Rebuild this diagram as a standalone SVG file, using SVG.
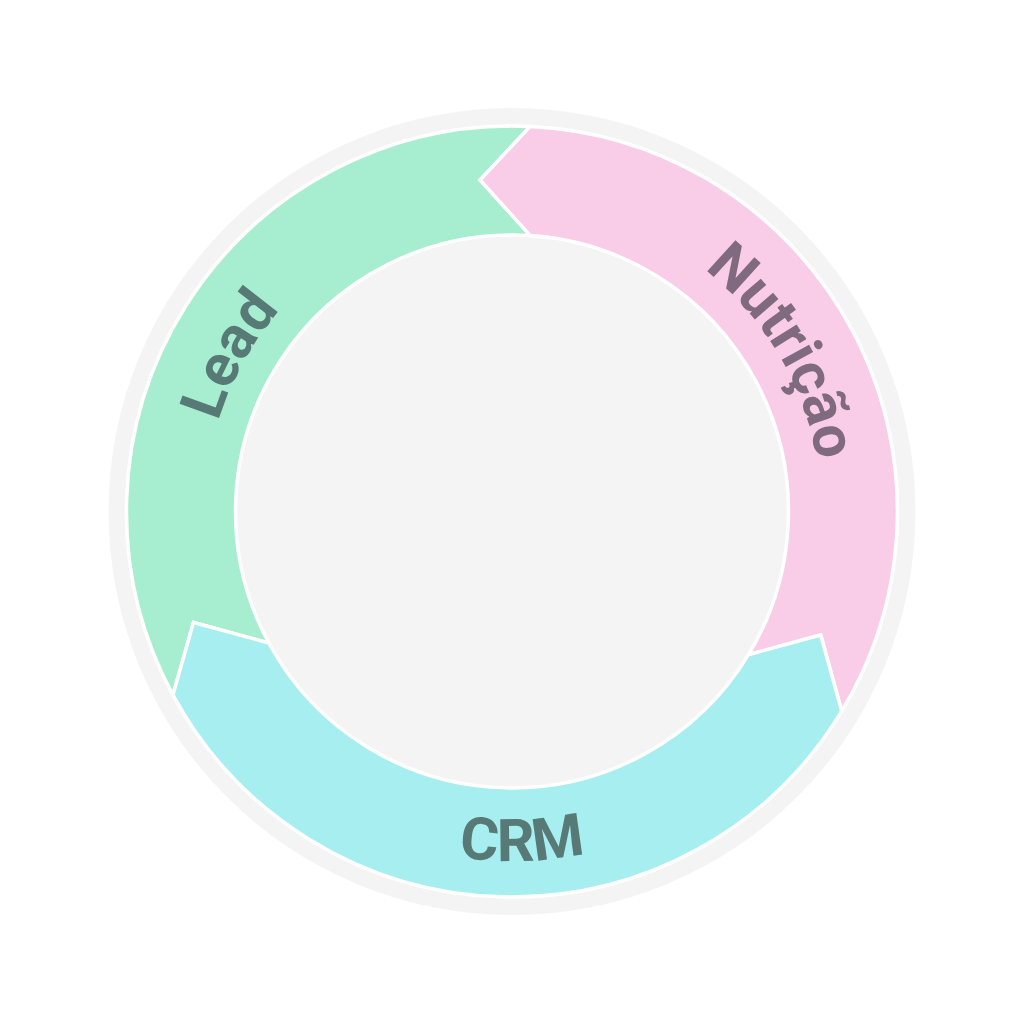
<svg xmlns="http://www.w3.org/2000/svg" width="1024" height="1023" viewBox="0 0 1024 1023">
  <style>
    .seg { stroke: #ffffff; stroke-width: 3.5; stroke-linejoin: miter; }
    .lbl { font-family: Roboto, "Liberation Sans", sans-serif; font-weight: 700; font-size: 59px; }
  </style>
  <defs>
    <path id="pLead" d="M210.6,570.1 A306,306 0 0 1 402.0,224.9" fill="none"/>
    <path id="pNut" d="M615.1,220.2 A308,308 0 0 1 816.8,562.5" fill="none"/>
    <path id="pCrm" d="M295.1,786.2 A351,351 0 0 0 744.8,772.8" fill="none"/>
  </defs>
  <rect width="1024" height="1023" fill="#ffffff"/>
  <circle id="ring" cx="512" cy="511.5" r="403.5" fill="#f4f4f4"/>
  <circle cx="512" cy="511.5" r="387" fill="#ffffff"/>
  <circle id="core" cx="512" cy="511.5" r="276" fill="#f4f4f4"/>
  <g id="node-lead">
    <path class="seg" fill="#a6eecf" d="M172.9,694.9 A385.5,385.5 0 0 1 530.2,126.4 L480,180 L530.3,235.6 A276.5,276.5 0 0 0 268.8,643 L193.5,622.5 Z"/>
    <text class="lbl" fill="#587a77"><textPath href="#pLead" startOffset="50%" text-anchor="middle">Lead</textPath></text>
  </g>
  <g id="node-nutricao">
    <path class="seg" fill="#f9cde8" d="M480,180 L530.2,126.4 A385.5,385.5 0 0 1 841.7,711.2 L820.7,635 L748.5,654.7 A276.5,276.5 0 0 0 530.3,235.6 Z"/>
    <text class="lbl" fill="#806a80"><textPath href="#pNut" startOffset="50%" text-anchor="middle">Nutrição</textPath></text>
  </g>
  <g id="node-crm">
    <path class="seg" fill="#a6eeef" d="M172.9,694.9 L193.5,622.5 L268.8,643 A276.5,276.5 0 0 0 748.5,654.7 L820.7,635 L841.7,711.2 A385.5,385.5 0 0 1 172.9,694.9 Z"/>
    <text class="lbl" fill="#587a77"><textPath href="#pCrm" startOffset="50%" text-anchor="middle">CRM</textPath></text>
  </g>
  <g id="connectors"></g>
</svg>
